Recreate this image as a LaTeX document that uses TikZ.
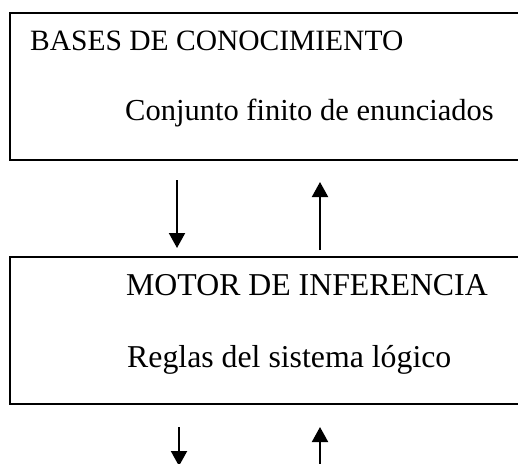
\documentclass[tikz,border=0pt]{standalone}
\usepackage{fontspec}
\setmainfont{Liberation Serif}
\usetikzlibrary{arrows.meta,calc}
\begin{document}
\begin{tikzpicture}[x=1pt,y=-1pt,
  box/.style={draw,line width=2pt,minimum width=540pt,minimum height=147pt,anchor=north west,inner sep=0pt},
  lbl/.style={anchor=base west,inner sep=0pt},
  arr/.style={line width=2pt,-{Triangle[width=16pt,length=15pt]}}]
\useasboundingbox (0,0) rectangle (518,463);
\clip (0,0) rectangle (518,463);
\node[box] (kb) at (9,12) {};
\node[box] (ie) at (9,256) {};
\node[lbl,font=\fontsize{29.5}{34}\selectfont] (t1) at (30,50) {BASES DE CONOCIMIENTO};
\node[lbl,font=\fontsize{30.5}{34}\selectfont] (t2) at (125,120) {Conjunto finito de enunciados};
\node[lbl,font=\fontsize{31.8}{36}\selectfont] (t3) at (126,295) {MOTOR DE INFERENCIA};
\node[lbl,font=\fontsize{31.8}{36}\selectfont] (t4) at (127,367) {Reglas del sistema lógico};
\draw[arr] ($(kb.south west)+(168,19)$) -- ($(ie.north west)+(168,-8)$);
\draw[arr] ($(ie.north west)+(311,-6)$) -- ($(kb.south west)+(311,21)$);
\coordinate (d1) at (179,466);
\coordinate (u1) at (320,500);
\draw[arr] ($(ie.south west)+(170,22)$) -- (d1);
\draw[arr] (u1) -- ($(ie.south west)+(311,22)$);
\end{tikzpicture}
\end{document}
